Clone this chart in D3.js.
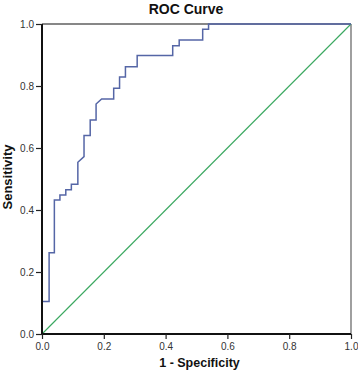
<!DOCTYPE html>
<html>
<head>
<meta charset="utf-8">
<script src="https://cdn.jsdelivr.net/npm/d3@7"></script>
<style>
  html, body { margin: 0; padding: 0; background: #fff; }
  svg { display: block; font-family: "Liberation Sans", Arial, sans-serif; }
</style>
</head>
<body>
<svg id="chart" width="358" height="376"></svg>
<script>
// ROC curve points (1 - specificity, sensitivity)
const fpr = [0,0,0.023,0.023,0.04,0.04,0.058,0.058,0.077,0.077,0.095,0.095,0.116,0.116,0.136,0.136,0.156,0.156,0.175,0.175,0.193,0.232,0.232,0.251,0.251,0.27,0.27,0.308,0.308,0.423,0.423,0.444,0.444,0.52,0.52,0.539,0.539,1.0];
const tpr = [0,0.105,0.105,0.262,0.262,0.432,0.432,0.448,0.448,0.465,0.465,0.483,0.483,0.554,0.572,0.64,0.64,0.69,0.69,0.742,0.758,0.758,0.793,0.793,0.829,0.829,0.862,0.862,0.898,0.898,0.93,0.93,0.948,0.948,0.983,0.983,1.0,1.0];
const refLine = [0, 1];
const tickValues = [0, 0.2, 0.4, 0.6, 0.8, 1.0];
const title = "ROC Curve";
const xLabel = "1 - Specificity";
const yLabel = "Sensitivity";

(function () {
const svg = d3.select("#chart");
const pL = 42, pR = 351, pT = 24, pB = 334;
const x = d3.scaleLinear().domain([0, 1]).range([pL, pR]);
const y = d3.scaleLinear().domain([0, 1]).range([pB, pT]);

// frame: top and right
svg.append("line").attr("x1", pL).attr("x2", pR).attr("y1", pT).attr("y2", pT)
  .attr("stroke", "#111").attr("stroke-width", 1.2);
svg.append("line").attr("x1", pR).attr("x2", pR).attr("y1", pT).attr("y2", pB)
  .attr("stroke", "#888").attr("stroke-width", 1.6);

// reference diagonal
svg.append("line")
  .attr("x1", x(refLine[0])).attr("y1", y(refLine[0]))
  .attr("x2", x(refLine[1])).attr("y2", y(refLine[1]))
  .attr("stroke", "#3aa860").attr("stroke-width", 1.1);

// ROC curve
const pts = fpr.map((v, i) => [v, tpr[i]]);
svg.append("path")
  .attr("d", d3.line().x(d => x(d[0])).y(d => y(d[1]))(pts))
  .attr("fill", "none").attr("stroke", "#5566a6").attr("stroke-width", 1.5)
  .attr("stroke-linejoin", "miter");

// axes
const xAxis = svg.append("g").attr("transform", `translate(0,${pB})`)
  .call(d3.axisBottom(x).tickValues(tickValues).tickFormat(d3.format(".1f")).tickSize(5).tickPadding(4));
const yAxis = svg.append("g").attr("transform", `translate(${pL},0)`)
  .call(d3.axisLeft(y).tickValues(tickValues).tickFormat(d3.format(".1f")).tickSize(6).tickPadding(2));

[xAxis, yAxis].forEach(g => {
  g.select(".domain").attr("stroke", "#111").attr("stroke-width", 2);
  g.selectAll(".tick line").attr("stroke", "#222").attr("stroke-width", 1.2);
  g.selectAll(".tick text").attr("fill", "#333").attr("font-size", 10)
    .attr("font-family", "Liberation Sans, Arial, sans-serif");
});
xAxis.select(".domain").attr("d", `M${pL},0H${pR}`);
yAxis.select(".domain").attr("d", `M0,${pB}V${pT}`);

// title and labels
svg.append("text").attr("x", 186).attr("y", 14).attr("text-anchor", "middle")
  .attr("font-size", 14).attr("font-weight", "bold").attr("fill", "#111").text(title);
svg.append("text").attr("x", 199.5).attr("y", 367).attr("text-anchor", "middle")
  .attr("font-size", 12.5).attr("font-weight", "bold").attr("fill", "#111").text(xLabel);
svg.append("text").attr("transform", "translate(11.5,177) rotate(-90)").attr("text-anchor", "middle")
  .attr("font-size", 13).attr("font-weight", "bold").attr("fill", "#111").text(yLabel);
})();
</script>
</body>
</html>
